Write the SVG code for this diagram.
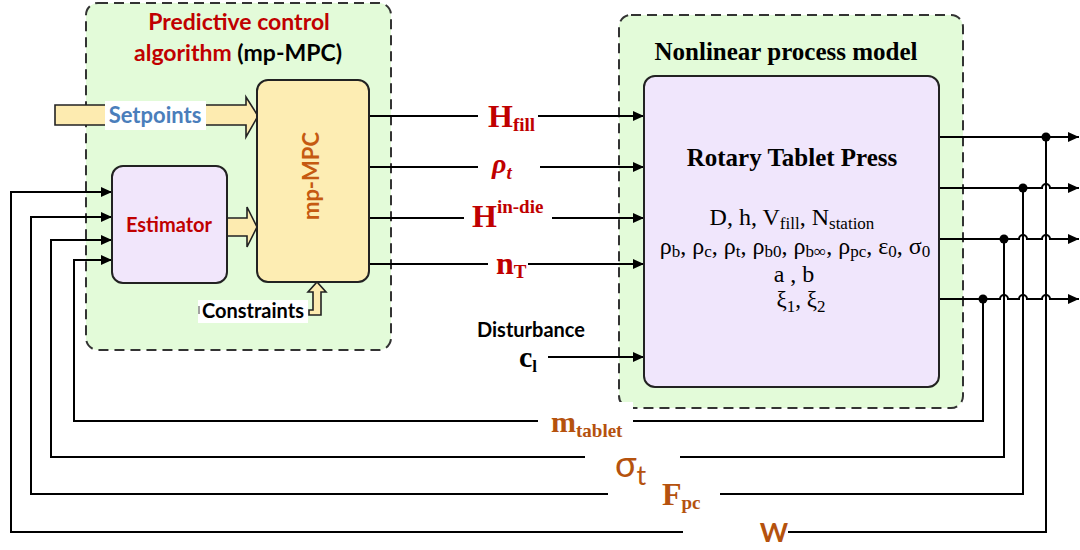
<svg xmlns="http://www.w3.org/2000/svg" width="1080" height="550" viewBox="0 0 1080 550">
<defs>
<style>
.cont{fill:#e3fbd9;stroke:#333;stroke-width:2;stroke-dasharray:10,6}
.node{stroke:#222;stroke-width:2}
.blk{fill:#fdebb0;stroke:#222;stroke-width:1.6;stroke-linejoin:miter}
.ln{fill:none;stroke:#000;stroke-width:2}
.lbg{fill:#fff}
.sans{font-family:Lato,"Liberation Sans",sans-serif;font-weight:bold}
.serif{font-family:"Liberation Serif","Times New Roman",serif}
.red{fill:#c00000}
.brown{fill:#b5520e}
</style>
<marker id="arr" markerUnits="userSpaceOnUse" markerWidth="12" markerHeight="10" refX="11" refY="5" orient="auto">
<path d="M0,0 L11,5 L0,10 z" fill="#000"/>
</marker>
</defs>
<rect width="1080" height="550" fill="#fff"/>

<g id="mpc-container">
<rect class="cont" x="86" y="3" width="305" height="347" rx="12"/>
<text class="sans red" x="239" y="30" font-size="23" text-anchor="middle">Predictive control</text>
<text class="sans red" x="238" y="61" font-size="23" text-anchor="middle">algorithm <tspan fill="#000">(mp-MPC)</tspan></text>
</g>

<g id="process-container">
<rect class="cont" x="619" y="15" width="344" height="393" rx="12"/>
<text class="serif" x="786" y="60" font-size="25" font-weight="bold" text-anchor="middle">Nonlinear process model</text>
</g>

<g id="connectors">
<line class="ln" x1="369" y1="116" x2="644" y2="116" marker-end="url(#arr)"/>
<line class="ln" x1="369" y1="167" x2="644" y2="167" marker-end="url(#arr)"/>
<line class="ln" x1="369" y1="218" x2="644" y2="218" marker-end="url(#arr)"/>
<line class="ln" x1="369" y1="264" x2="644" y2="264" marker-end="url(#arr)"/>
<line class="ln" x1="548" y1="357" x2="644" y2="357" marker-end="url(#arr)"/>
<path class="ln" d="M939,137 H1079" marker-end="url(#arr)"/>
<path class="ln" d="M939,188 H1042 a4,4 0 0 1 8,0 H1079" marker-end="url(#arr)"/>
<path class="ln" d="M939,239 H1019 a4,4 0 0 1 8,0 H1042 a4,4 0 0 1 8,0 H1079" marker-end="url(#arr)"/>
<path class="ln" d="M939,299 H1000 a4,4 0 0 1 8,0 H1019 a4,4 0 0 1 8,0 H1042 a4,4 0 0 1 8,0 H1079" marker-end="url(#arr)"/>
<path class="ln" d="M1046,137 V532 H11 V192 H112" marker-end="url(#arr)"/>
<path class="ln" d="M1023,188 V494 H31 V217 H112" marker-end="url(#arr)"/>
<path class="ln" d="M1004,239 V457 H51 V240 H112" marker-end="url(#arr)"/>
<path class="ln" d="M983,299 V421 H74 V260 H112" marker-end="url(#arr)"/>
<circle cx="1046" cy="137" r="4.5"/>
<circle cx="1023" cy="188" r="4.5"/>
<circle cx="1004" cy="239" r="4.5"/>
<circle cx="983" cy="299" r="4.5"/>
<polygon class="blk" points="55,105 246,105 246,97 258,116 246,137 246,125 55,125"/>
<polygon class="blk" points="224,218 247,218 247,207 257,227 247,247 247,236 224,236"/>
<polygon class="blk" points="309,315 321,315 321,292 326,292 317,282 308,292 313,292 313,310 309,310"/>
</g>

<g id="setpoints-label">
<rect class="lbg" x="105" y="101" width="101" height="29"/>
<text class="sans" x="155" y="123" font-size="22" fill="#4a7ebb" text-anchor="middle">Setpoints</text>
</g>

<g id="mp-mpc">
<rect class="node" x="257" y="80" width="112" height="202" rx="11" fill="#fdedb3"/>
<text class="sans" transform="translate(319,176) rotate(-90)" font-size="22" fill="#c55a11" text-anchor="middle">mp-MPC</text>
</g>

<g id="estimator">
<rect class="node" x="112" y="166" width="115" height="117" rx="11" fill="#f1e6fb"/>
<text class="sans red" x="169" y="232" font-size="20" text-anchor="middle">Estimator</text>
</g>

<g id="constraints-label">
<rect class="lbg" x="198" y="300" width="110" height="23"/>
<line x1="199" y1="306" x2="199" y2="314" stroke="#444" stroke-width="1"/>
<text class="sans" x="253" y="318" font-size="20" fill="#000" text-anchor="middle">Constraints</text>
</g>

<g id="rtp">
<rect class="node" x="644" y="76" width="295" height="311" rx="11" fill="#f0e6fc"/>
<text class="serif" x="792" y="166" font-size="25" font-weight="bold" text-anchor="middle">Rotary Tablet Press</text>
<text class="serif" x="792" y="225" font-size="24" text-anchor="middle">D, h, V<tspan font-size="17" dy="4">fill</tspan><tspan dy="-4">, N</tspan><tspan font-size="17" dy="4">station</tspan></text>
<text class="serif" x="795" y="254" font-size="24" text-anchor="middle">ρ<tspan font-size="17" dy="3">b</tspan><tspan dy="-3">, ρ</tspan><tspan font-size="17" dy="3">c</tspan><tspan dy="-3">, ρ</tspan><tspan font-size="17" dy="3">t</tspan><tspan dy="-3">, ρ</tspan><tspan font-size="17" dy="3">b0</tspan><tspan dy="-3">, ρ</tspan><tspan font-size="17" dy="3">b∞</tspan><tspan dy="-3">, ρ</tspan><tspan font-size="17" dy="3">pc</tspan><tspan dy="-3">, ε</tspan><tspan font-size="17" dy="3">0</tspan><tspan dy="-3">, σ</tspan><tspan font-size="17" dy="3">0</tspan></text>
<text class="serif" x="794" y="282" font-size="24" text-anchor="middle">a , b</text>
<text class="serif" x="801" y="307" font-size="23" text-anchor="middle">ξ<tspan font-size="17" dy="5">1</tspan><tspan dy="-5">, ξ</tspan><tspan font-size="17" dy="5">2</tspan></text>
</g>

<g id="label-hfill">
<rect class="lbg" x="478" y="98" width="60" height="39"/>
<text class="serif red" x="488" y="127" font-size="32" font-weight="bold">H<tspan font-size="19" dy="4">fill</tspan></text>
</g>
<g id="label-rho-t">
<rect class="lbg" x="478" y="143" width="62" height="43"/>
<text class="serif red" x="492" y="173" font-size="28" font-weight="bold" font-style="italic">ρ<tspan font-size="19" dy="6">t</tspan></text>
</g>
<g id="label-hindie">
<rect class="lbg" x="464" y="193" width="88" height="44"/>
<text class="serif red" x="472" y="227" font-size="32" font-weight="bold">H<tspan font-size="19" dy="-14">in-die</tspan></text>
</g>
<g id="label-nt">
<rect class="lbg" x="488" y="245" width="40" height="40"/>
<text class="serif red" x="496" y="274" font-size="32" font-weight="bold">n<tspan font-size="19" dy="4">T</tspan></text>
</g>
<g id="label-disturbance">
<text class="sans" x="531" y="337" font-size="20" fill="#000" text-anchor="middle">Disturbance</text>
<rect class="lbg" x="518" y="347" width="20" height="30"/>
<text class="serif" x="519" y="367" font-size="30" font-weight="bold" fill="#000">c<tspan font-size="17" dy="5">l</tspan></text>
</g>

<g id="label-w">
<rect class="lbg" x="683" y="515" width="105" height="35"/>
<text class="sans brown" x="774" y="542" font-size="27" text-anchor="middle">W</text>
</g>
<g id="label-fpc">
<rect class="lbg" x="608" y="477" width="112" height="38"/>
<text class="serif brown" x="662" y="505" font-size="32" font-weight="bold">F<tspan font-size="19" dy="4">pc</tspan></text>
</g>
<g id="label-sigma">
<rect class="lbg" x="585" y="440" width="95" height="37"/>
<text class="brown" x="615" y="477" font-size="36" style="font-family:Lato,'Liberation Sans',sans-serif;font-weight:normal">σ<tspan font-size="27" dy="8">t</tspan></text>
</g>
<g id="label-mtablet">
<rect class="lbg" x="538" y="402" width="95" height="38"/>
<text class="serif brown" x="551" y="432" font-size="30" font-weight="bold">m<tspan font-size="19" dy="5">tablet</tspan></text>
</g>
</svg>
